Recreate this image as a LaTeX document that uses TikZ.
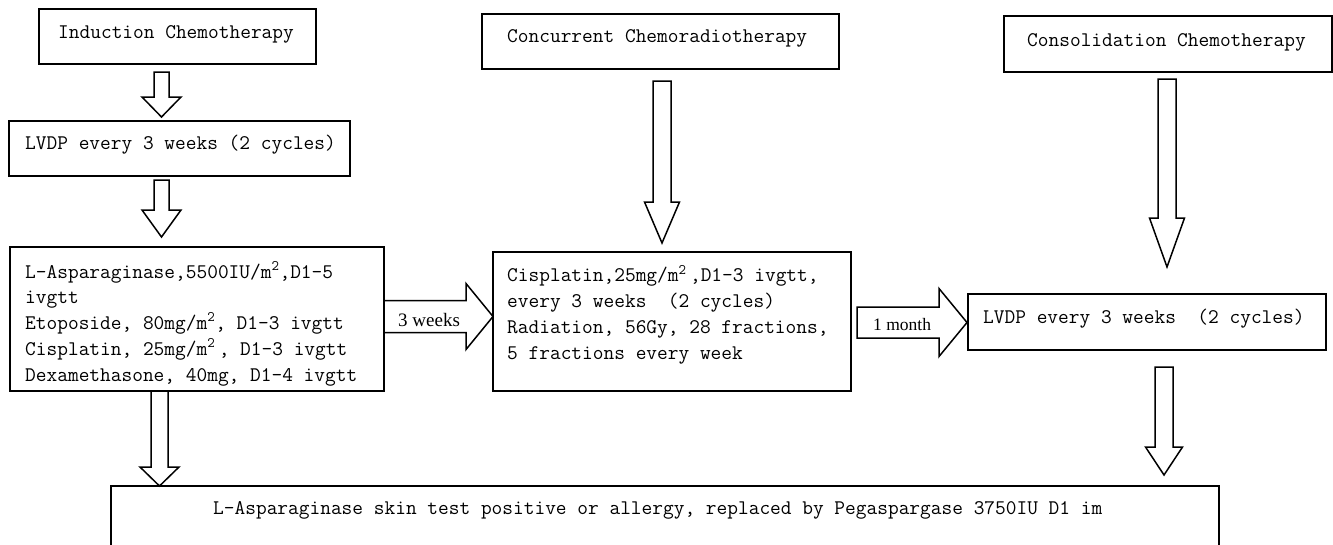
\documentclass[tikz,border=0pt]{standalone}
\usepackage{fontspec}
\newfontfamily\tnr{Liberation Serif}
\usetikzlibrary{calc}
\newcommand{\monof}{\fontsize{20.8}{26}\selectfont\ttfamily}
\newcommand{\sq}{\textsuperscript{2}}
% vertical block arrow: from, to, xc, topgap, botgap, shaft hw, head hw, head len
\newcommand{\vblock}[8]{%
  \draw[blk] let \p1=(#1.south), \p2=(#2.north) in
    (#3pt-#6pt,\y1-#4pt) -- (#3pt+#6pt,\y1-#4pt) -- (#3pt+#6pt,\y2+#5pt+#8pt)
    -- (#3pt+#7pt,\y2+#5pt+#8pt) -- (#3pt,\y2+#5pt) -- (#3pt-#7pt,\y2+#5pt+#8pt)
    -- (#3pt-#6pt,\y2+#5pt+#8pt) -- cycle;}
% horizontal block arrow: from, to, yc, leftgap, rightgap, shaft hw, head hw, head len
\newcommand{\hblock}[8]{%
  \draw[blk] let \p1=(#1.east), \p2=(#2.west) in
    (\x1+#4pt,#3pt+#6pt) -- (\x2-#5pt-#8pt,#3pt+#6pt) -- (\x2-#5pt-#8pt,#3pt+#7pt)
    -- (\x2-#5pt,#3pt) -- (\x2-#5pt-#8pt,#3pt-#7pt) -- (\x2-#5pt-#8pt,#3pt-#6pt)
    -- (\x1+#4pt,#3pt-#6pt) -- cycle;}
\tikzset{
  box/.style={draw, line width=1.5pt, rectangle, inner sep=0pt, outer sep=0pt, anchor=north west},
  txt/.style={font=\monof, anchor=base west, inner sep=0pt},
  lbl/.style={anchor=base west, inner sep=0pt},
  blk/.style={draw, line width=1.5pt, fill=white, line join=miter}
}
\begin{document}
\begin{tikzpicture}[x=1pt,y=1pt]
\useasboundingbox (0,0) rectangle (1333,-544);
\clip (0,0) rectangle (1333,-544);
\fill[white] (0,0) rectangle (1333,-544);
% boxes
\node[box, minimum width=277pt, minimum height=55pt] (ind) at (39,-9) {};
\node[box, minimum width=341pt, minimum height=55pt] (lv1) at (9,-121) {};
\node[box, minimum width=374pt, minimum height=144pt] (b3) at (10,-247) {};
\node[box, minimum width=357pt, minimum height=55pt] (con) at (482,-14) {};
\node[box, minimum width=358pt, minimum height=139pt] (b5) at (493,-252) {};
\node[box, minimum width=328pt, minimum height=56pt] (cons) at (1004,-16) {};
\node[box, minimum width=358pt, minimum height=56pt] (lv2) at (968,-294) {};
\node[box, minimum width=1108pt, minimum height=84pt] (bot) at (111,-486) {};
% texts
\node[txt] (tind) at (58,-38) {Induction Chemotherapy};
\node[txt] (tlv1) at (25,-149) {LVDP every 3 weeks (2 cycles)};
\node[txt] (t3a) at (25,-278) {L-Asparaginase,5500IU/m\sq,D1-5};
\node[txt] (t3b) at (25,-303.5) {ivgtt};
\node[txt] (t3c) at (25,-329.5) {Etoposide, 80mg/m\sq, D1-3 ivgtt};
\node[txt] (t3d) at (25,-355.5) {Cisplatin, 25mg/m\sq\,, D1-3 ivgtt};
\node[txt] (t3e) at (25,-381.5) {Dexamethasone, 40mg, D1-4 ivgtt};
\node[txt] (tcon) at (507,-42.3) {Concurrent Chemoradiotherapy};
\node[txt] (t5a) at (507,-281.7) {Cisplatin,25mg/m\sq\,,D1-3 ivgtt,};
\node[txt] (t5b) at (507,-307.5) {every 3 weeks~ (2 cycles)};
\node[txt] (t5c) at (507,-333.3) {Radiation, 56Gy, 28 fractions,};
\node[txt] (t5d) at (507,-359) {5 fractions every week};
\node[txt] (tcons) at (1027,-46.7) {Consolidation Chemotherapy};
\node[txt] (tlv2) at (983,-323.5) {LVDP every 3 weeks~ (2 cycles)};
\node[txt] (tbot) at (213,-514) {L-Asparaginase skin test positive or allergy, replaced by Pegaspargase 3750IU D1 im};
% arrows
\vblock{ind}{lv1}{161.5}{8}{4}{7.5}{19.5}{20}
\vblock{lv1}{b3}{161.5}{4}{10}{7.5}{19.5}{27}
\vblock{b3}{bot}{159.5}{0}{0}{8.5}{19.5}{19}
\vblock{con}{b5}{662}{12}{9}{9}{17.5}{41}
\vblock{cons}{lv2}{1167}{7}{27}{9}{17.5}{49}
\vblock{lv2}{bot}{1164}{17}{11}{9}{18.5}{28}
\hblock{b3}{b5}{-316.5}{0}{0}{16}{33}{27}
\hblock{b5}{lv2}{-322.5}{6}{1}{15.5}{34}{28}
\node[lbl, font=\tnr\fontsize{19}{22}\selectfont] (w3) at (398,-326) {3 weeks};
\node[lbl, font=\tnr\fontsize{17.5}{20}\selectfont] (m1) at (873,-330.7) {1 month};
\end{tikzpicture}
\end{document}
